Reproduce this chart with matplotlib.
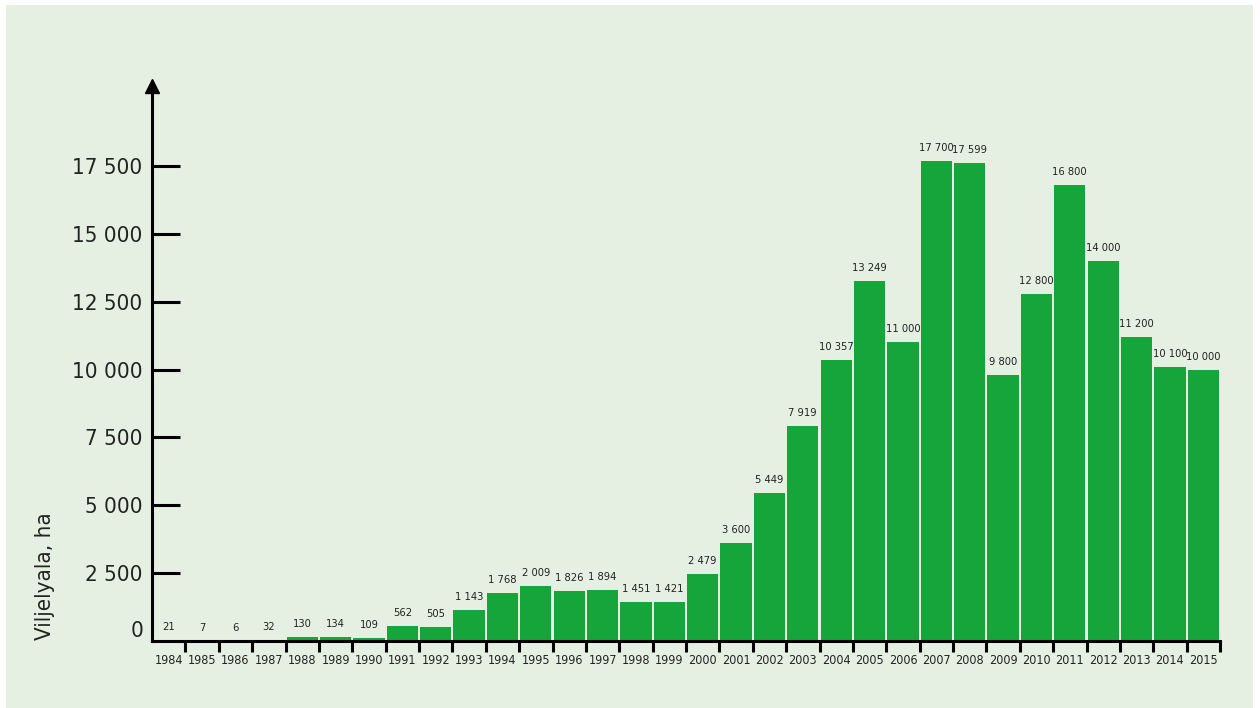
import matplotlib.pyplot as plt
from matplotlib.patches import Rectangle
from matplotlib import font_manager

# Data: cultivated area per year (ha)
years = list(range(1984, 2016))
area_ha = [21, 7, 6, 32, 130, 134, 109, 562, 505, 1143, 1768, 2009, 1826, 1894,
           1451, 1421, 2479, 3600, 5449, 7919, 10357, 13249, 11000, 17700, 17599,
           9800, 12800, 16800, 14000, 11200, 10100, 10000]
ytick_values = [2500, 5000, 7500, 10000, 12500, 15000, 17500]

# pick a narrow font if one is installed
entries = font_manager.fontManager.ttflist
names = {f.name for f in entries}
condensed = any(f.name == 'DejaVu Sans' and 'condensed' in str(f.stretch) for f in entries)
if 'Liberation Sans Narrow' in names:
    plt.rcParams['font.family'] = ['Liberation Sans Narrow', 'DejaVu Sans']
elif condensed:
    plt.rcParams['font.family'] = ['DejaVu Sans']
    plt.rcParams['font.stretch'] = 'condensed'
else:
    plt.rcParams['font.family'] = ['Roboto', 'DejaVu Sans']

bg = '#e6f0e2'
bar_color = '#16a53a'
txt = '#222222'


def fmt(v):
    return f'{v:,}'.replace(',', ' ')


fig = plt.figure(figsize=(12.6, 7.08), dpi=100, facecolor='white')
fig.patches.append(Rectangle((6 / 1260, 0), 1247 / 1260, 703 / 708,
                             transform=fig.transFigure, facecolor=bg,
                             edgecolor='none', zorder=-10))

W, H = 1260, 708
left, right, bottom, top = 152, 1220, 641, 86
ax = fig.add_axes([left / W, (H - bottom) / H, (right - left) / W, (bottom - top) / H])
ax.set_facecolor('none')
ax.set_zorder(2)

x = list(range(len(years)))
ax.bar(x, area_ha, width=0.94, color=bar_color, zorder=2)

for xi, v in zip(x, area_ha):
    ax.annotate(fmt(v), (xi, v), xytext=(0, 13), textcoords='offset pixels',
                ha='center', va='center', fontsize=8, color=txt)

ax.set_xlim(-0.5, len(years) - 0.5)
ax.set_ylim(0, 20447)

for s in ['top', 'right']:
    ax.spines[s].set_visible(False)
ax.spines['left'].set_linewidth(2.2)
ax.spines['bottom'].set_linewidth(2.2)

# y ticks pointing into the plot
ax.set_yticks(ytick_values)
ax.set_yticklabels([fmt(v) for v in ytick_values], fontsize=16, color=txt)
ax.tick_params(axis='y', direction='in', length=20, width=2.2, pad=7)
ax.text(-0.008, 0, '0', transform=ax.get_yaxis_transform(), ha='right', va='bottom',
        fontsize=16, color=txt)

# x ticks on bar boundaries, labels centred under the bars
ax.set_xticks([i + 0.5 for i in x])
ax.set_xticklabels([])
ax.tick_params(axis='x', direction='out', length=8, width=2.2)
for xi, yr in zip(x, years):
    ax.text(xi, -0.035, str(yr), transform=ax.get_xaxis_transform(),
            ha='center', va='center', fontsize=9, color=txt)

# arrow head on the y axis
ax.plot(0, 1, marker='^', markersize=9.5, color='black', transform=ax.transAxes,
        clip_on=False, zorder=5)

fig.text(45 / W, (H - 640) / H, 'Viljelyala, ha', rotation=90, ha='center',
         va='bottom', fontsize=16, color=txt)

fig.savefig('out.png', dpi=100, facecolor='white')
